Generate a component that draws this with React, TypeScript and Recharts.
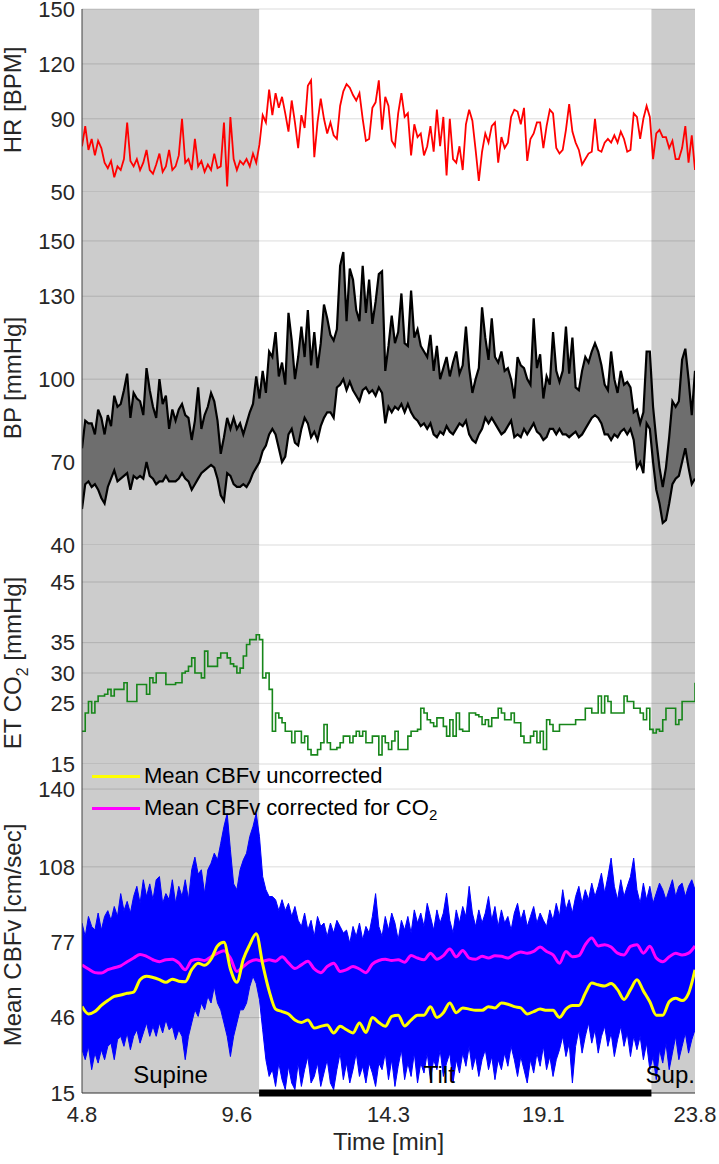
import React from 'react';
import {
  ComposedChart,
  Line,
  Area,
  XAxis,
  YAxis,
  ReferenceArea,
  ReferenceLine,
} from 'recharts';

// time base of the traces (minutes)
const T_START = 4.8;
const T_STEP = 0.1;
const T_END = 23.8;
// supine -> tilt -> supine
const SUPINE_END = 10.29;
const TILT_END = 22.45;

const timeTicks = [4.8, 9.6, 14.3, 19.1, 23.8];
const hrTicks = [50, 90, 120, 150];
const bpTicks = [40, 70, 100, 130, 150];
const co2Ticks = [15, 25, 30, 35, 45];
const cbfvTicks = [15, 46, 77, 108, 140];

// HR [BPM], one value every 0.1 min
const heartRate = [
  75, 86, 73, 79, 70, 78, 74, 66, 63, 67,
  58, 64, 62, 68, 88, 67, 64, 68, 62, 66,
  73, 62, 60, 65, 71, 61, 64, 73, 62, 64,
  70, 90, 66, 68, 62, 79, 64, 67, 61, 65,
  62, 71, 63, 64, 88, 53, 91, 68, 62, 67,
  65, 68, 64, 71, 66, 76, 92, 88, 106, 92,
  104, 96, 102, 93, 83, 100, 88, 74, 92, 85,
  108, 111, 69, 88, 101, 90, 82, 88, 81, 79,
  97, 105, 109, 107, 103, 100, 104, 90, 78, 79,
  96, 99, 111, 84, 102, 97, 78, 75, 93, 104,
  91, 93, 70, 87, 80, 82, 70, 75, 86, 72,
  95, 75, 91, 59, 90, 68, 66, 75, 62, 87,
  95, 89, 73, 56, 72, 82, 77, 86, 88, 66,
  80, 74, 77, 91, 95, 94, 87, 96, 67, 79,
  82, 88, 88, 74, 86, 95, 93, 74, 71, 73,
  84, 98, 83, 77, 73, 65, 68, 71, 72, 90,
  73, 72, 77, 79, 77, 81, 77, 83, 79, 72,
  73, 93, 91, 79, 90, 97, 91, 68, 82, 84,
  80, 80, 74, 78, 68, 68, 74, 86, 66, 81,
  62,
];

// BP [mmHg] upper and lower envelope
const bpSystolic = [
  75, 85, 84, 84, 80, 89, 86, 80, 87, 83,
  94, 90, 91, 96, 102, 86, 95, 93, 92, 87,
  104, 96, 90, 86, 100, 91, 94, 82, 89, 85,
  89, 91, 87, 86, 78, 85, 97, 82, 87, 90,
  95, 92, 85, 73, 79, 86, 82, 86, 82, 84,
  80, 84, 88, 91, 101, 93, 103, 95, 110, 108,
  117, 101, 106, 98, 124, 114, 100, 108, 119, 108,
  125, 105, 117, 104, 113, 127, 122, 116, 114, 118,
  141, 146, 121, 140, 136, 125, 121, 141, 124, 136,
  120, 128, 138, 139, 103, 112, 123, 113, 117, 131,
  113, 112, 132, 115, 118, 112, 110, 108, 116, 103,
  112, 100, 104, 108, 101, 106, 110, 102, 105, 119,
  104, 95, 100, 104, 126, 115, 107, 122, 108, 106,
  110, 103, 104, 100, 93, 108, 105, 104, 100, 98,
  122, 104, 109, 93, 101, 98, 117, 103, 99, 103,
  119, 102, 115, 97, 96, 103, 108, 106, 110, 113,
  110, 105, 98, 96, 110, 100, 95, 103, 98, 99,
  97, 88, 89, 84, 88, 110, 110, 90, 78, 68,
  61, 68, 79, 92, 90, 92, 107, 111, 100, 87,
  103,
];
const bpDiastolic = [
  53, 62, 63, 61, 62, 60, 57, 55, 61, 64,
  67, 63, 64, 65, 66, 60, 65, 64, 65, 64,
  70, 65, 64, 62, 63, 63, 65, 63, 63, 63,
  64, 66, 64, 63, 60, 62, 64, 66, 67, 68,
  69, 68, 64, 58, 56, 66, 65, 62, 61, 61,
  62, 61, 63, 66, 68, 70, 74, 76, 80, 82,
  80, 75, 70, 72, 80, 82, 77, 76, 82, 86,
  84, 79, 81, 78, 83, 86, 88, 88, 86, 97,
  98, 100, 96, 99, 96, 94, 92, 96, 97, 95,
  96, 94, 97, 95, 84, 90, 88, 90, 89, 91,
  88, 91, 88, 86, 85, 83, 84, 82, 84, 80,
  79, 81, 80, 83, 81, 80, 82, 84, 83, 85,
  80, 78, 77, 80, 82, 86, 84, 86, 84, 82,
  80, 81, 83, 85, 79, 80, 79, 82, 80, 82,
  84, 81, 80, 78, 79, 82, 82, 80, 82, 80,
  80, 79, 80, 81, 79, 80, 82, 84, 86, 87,
  86, 84, 80, 80, 78, 80, 79, 81, 82, 80,
  82, 78, 68, 70, 66, 84, 82, 70, 60, 55,
  48, 49, 55, 62, 64, 65, 70, 75, 68, 62,
  64,
];

// end-tidal CO2 [mmHg]
const etCo2 = [
  20.4, 23.4, 25.3, 23.4, 25.3, 26.2, 26.2, 26.5, 27.3, 26.2,
  27.3, 27.3, 27.3, 28.4, 25.3, 25.3, 25.3, 28.1, 28.1, 28.1,
  26.5, 29.2, 28.4, 30, 30, 30, 28.1, 28.1, 28.1, 28.4,
  28.4, 30, 30.3, 31.1, 32.5, 30, 30, 29.2, 33.6, 31.1,
  31.1, 31.1, 32.5, 33.3, 33.3, 32.5, 31.5, 31.1, 30, 30.8,
  32.8, 34.7, 35.5, 35.5, 36.3, 35.5, 29.2, 30, 27.3, 20.4,
  23.4, 22.6, 21.8, 20.4, 20.4, 18.5, 20.4, 20.4, 18.5, 19.6,
  17.4, 16.5, 16.5, 17.4, 18.5, 21.5, 18.5, 17.4, 17.4, 17.7,
  18.5, 19.6, 19.6, 18.5, 19.6, 20.4, 19.6, 20.4, 18.5, 18.5,
  19.6, 19.6, 16.5, 19.6, 18.5, 17.4, 18.8, 20.4, 17.4, 17.4,
  17.4, 19.6, 20.4, 20.4, 20.7, 24.2, 23.4, 22.3, 21.8, 21.2,
  22.6, 22.6, 21.2, 19.6, 22.3, 19.6, 23.4, 20.7, 20.4, 20.4,
  23.4, 23.4, 23.1, 22.8, 21.5, 22.3, 21.2, 22.6, 22.6, 24.2,
  23.4, 22.3, 22.3, 23.4, 21.8, 21.8, 19.6, 18.5, 18.5, 19.6,
  20.4, 18.5, 20.4, 17.4, 22.3, 21.5, 20.4, 20.4, 21.5, 21.5,
  21.5, 21.5, 21.5, 22.3, 22.3, 22.3, 24.2, 24.2, 23.4, 23.4,
  26.2, 23.4, 26.2, 25.3, 23.4, 23.4, 23.4, 23.4, 26.2, 25.3,
  25.3, 24.2, 24.2, 23.4, 22.3, 24.2, 20.7, 20.1, 20.7, 20.4,
  22.3, 24.2, 24.2, 24.2, 21.5, 22.3, 25.3, 25.3, 25.3, 25.3,
  28.4,
];

// raw CBFv [cm/sec] beat band: upper and lower edge
const cbfvHigh = [
  84.9, 79.4, 87.6, 83.5, 82, 89, 82, 87.6, 90, 86,
  91.7, 87.6, 97, 90, 93.8, 89, 95.8, 100, 93, 102.7,
  95.8, 101, 94.5, 102.7, 104, 93, 97, 94.5, 102.7, 93,
  100, 95.8, 102.7, 94.5, 106.8, 112, 105, 106.8, 97, 106.8,
  109.5, 113.6, 110.9, 117.7, 124.6, 130, 115, 101, 98.6, 106.8,
  110.9, 113.6, 120.5, 124.6, 130, 120.5, 104, 98.6, 95.8, 95.8,
  94.5, 90, 94.5, 90, 93, 87.6, 91.7, 86, 83.5, 89,
  82, 86, 79.4, 87.6, 83.5, 84.9, 79.4, 84.9, 80.8, 86,
  83.5, 80.8, 82, 76.6, 83.5, 79.4, 84.9, 78, 83.5, 80.8,
  87.6, 97, 83.5, 79.4, 87.6, 82, 89, 84.9, 78, 86,
  82, 87.6, 80.8, 90.3, 84.9, 89, 83.5, 93, 87.6, 82,
  90.3, 84.9, 89, 97.2, 86, 80.8, 90.3, 84.9, 91.7, 87.6,
  100, 89, 83.5, 90.3, 84.9, 89, 95.8, 86, 91.7, 83.5,
  90.3, 84.9, 87.6, 82, 89, 93, 86, 90.3, 83.5, 87.6,
  91.7, 84.9, 89, 86, 83.5, 90.3, 86, 93, 87.6, 98.6,
  90.3, 94.5, 89, 95.8, 100, 93, 98.6, 94.5, 101.3, 95.8,
  100, 105.4, 97.2, 104, 111.6, 100, 94.5, 102.7, 95.8, 100,
  104, 111.6, 98.6, 93, 101.3, 94.5, 100, 93, 97.2, 101.3,
  98.6, 94.5, 98.6, 102.7, 95.8, 100, 101.3, 95.8, 100, 102.7,
  98.6,
];
const cbfvLow = [
  32.8, 28.7, 34.2, 24.6, 31.4, 27.3, 32.8, 28.7, 34.2, 35.5,
  28.7, 36.9, 38.3, 34.2, 39.7, 32.8, 38.3, 41, 35.5, 39.7,
  43.8, 38.3, 42.4, 38.3, 43.8, 39.7, 45.1, 41, 42.4, 36.9,
  41, 38.3, 28.7, 38.3, 43.8, 49.2, 46.5, 52, 49.2, 54.7,
  52, 58.8, 52, 49.2, 43.8, 38.3, 30, 38.3, 43.8, 49.2,
  49.2, 52, 58.8, 63, 60, 53.4, 41, 28.7, 21.8, 24.6,
  17.7, 27.3, 20.5, 16.4, 26, 19.1, 16.4, 27.3, 17.7, 24.6,
  30, 19.1, 21.8, 27.3, 17.7, 23.2, 28.7, 19.1, 16.4, 24.6,
  31.4, 20.5, 27.3, 19.1, 24.6, 31.4, 21.8, 26, 19.1, 27.3,
  23.2, 17.7, 27.3, 24.6, 31.4, 20.5, 28.7, 17.7, 26, 32.8,
  20.5, 27.3, 21.8, 31.4, 19.1, 27.3, 23.2, 31.4, 20.5, 28.7,
  24.6, 32.8, 21.8, 27.3, 31.4, 19.1, 28.7, 23.2, 31.4, 26,
  34.2, 24.6, 30, 21.8, 28.7, 32.8, 24.6, 30, 20.5, 28.7,
  24.6, 31.4, 26, 34.2, 28.7, 21.8, 30, 24.6, 19.1, 28.7,
  23.2, 31.4, 26, 34.2, 24.6, 30, 21.8, 28.7, 32.8, 38.3,
  30, 35.5, 19.1, 34.2, 41, 31.4, 38.3, 43.8, 35.5, 41,
  31.4, 38.3, 42.4, 34.2, 39.7, 30, 36.9, 42.4, 34.2, 39.7,
  30, 38.3, 32.8, 38.3, 28.7, 35.5, 24.6, 30, 20.5, 32.8,
  27.3, 35.5, 24.6, 31.4, 38.3, 28.7, 34.2, 39.7, 31.4, 36.9,
  41,
];

// mean CBFv [cm/sec], one value every 0.2 min
const cbfvUncorrected = [
  50.6, 47.5, 48.5, 51, 53, 54.7, 55.3, 56, 56.5, 61.6,
  63, 62.5, 61.6, 60.5, 61.8, 61, 60.8, 65.7, 68.4, 67.5,
  70, 75.5, 77, 66, 60.5, 70, 76, 80.5, 68, 57,
  49.5, 48.5, 47.5, 45, 44, 45, 41.7, 42.4, 43, 39.7,
  42.4, 41, 39.7, 43.8, 39.9, 46, 44, 42.4, 46.5, 47,
  42.6, 45, 47, 47, 50.5, 46, 48, 52, 48, 50,
  49.5, 49, 49, 50.5, 50, 52, 51.5, 50.5, 50, 47.5,
  48.5, 49.5, 49, 49, 46, 49.5, 51, 51, 56, 60.2,
  59.5, 59, 60, 57.5, 53.5, 57.5, 61.6, 57, 52.5, 47,
  47, 52.5, 54, 53, 56, 65.7,
];
const cbfvCorrected = [
  67.7, 66, 64.5, 64.3, 65.7, 66.5, 67.3, 69, 70.5, 72,
  71.2, 69.8, 69, 69.8, 70, 68.5, 65.7, 69.5, 70, 69.5,
  71, 72.5, 73.5, 70.5, 65, 67, 69, 69.8, 69.2, 69.8,
  69.2, 71, 68.5, 66.2, 67.7, 69.2, 66, 64.5, 67, 68.4,
  65, 65.7, 67, 66, 64.5, 68, 69.5, 70, 69.5, 69.8,
  68.8, 71.5, 70.5, 69.8, 72.5, 70, 71.5, 74.2, 71, 73.6,
  70.5, 70, 71.2, 70.5, 71.4, 71.2, 70.5, 72, 73, 72.5,
  73.2, 75, 73.2, 71.8, 68.4, 73.2, 71, 71.5, 76, 78.7,
  75.5, 76, 75, 72.5, 71.8, 75.3, 76, 72.5, 75.3, 70.5,
  69, 71, 72.5, 71.8, 72.5, 75.5,
];

const rows = heartRate.map((hr, i) => ({
  t: Math.round((T_START + i * T_STEP) * 100) / 100,
  hr,
  bp: [bpDiastolic[i], bpSystolic[i]],
  sys: bpSystolic[i],
  dia: bpDiastolic[i],
  co2: etCo2[i],
  band: [cbfvLow[i], cbfvHigh[i]],
  unc: i % 2 === 0 ? cbfvUncorrected[i / 2] : null,
  cor: i % 2 === 0 ? cbfvCorrected[i / 2] : null,
}));

const FONT = '"Liberation Sans", Arial, Helvetica, sans-serif';
const W = 719;
const AXIS_W = 82;
const RIGHT = 24;
const INK = '#262626';
const tickFont = { fontSize: 22, fill: INK, fontFamily: FONT };

// rotated y-axis title, optional subscript
const axisTitle = (cy: number, main: string, sub?: string, tail?: string) => () => (
  <text
    x={21}
    y={cy}
    transform={`rotate(-90, 21, ${cy})`}
    textAnchor="middle"
    fontSize={24}
    fontFamily={FONT}
    fill={INK}
  >
    {main}
    {sub && (
      <tspan dy={7} fontSize={16}>
        {sub}
      </tspan>
    )}
    {tail && <tspan dy={sub ? -7 : 0}>{tail}</tspan>}
  </text>
);

// gray supine periods + grid lines, shared by every panel
const backdrop = (ticks: number[]) => [
  <ReferenceArea key="s1" x1={T_START} x2={SUPINE_END} fill="#cccccc" fillOpacity={1} stroke="none" zIndex={-200} />,
  <ReferenceArea key="s2" x1={TILT_END} x2={T_END} fill="#cccccc" fillOpacity={1} stroke="none" zIndex={-200} />,
  ...ticks.map((v) => (
    <ReferenceLine key={'g' + v} y={v} stroke="#000" strokeOpacity={0.14} strokeWidth={1} zIndex={-150} />
  )),
];

const hiddenX = (
  <XAxis type="number" dataKey="t" domain={[T_START, T_END]} allowDataOverflow hide />
);

const yAxisProps = {
  type: 'number' as const,
  width: AXIS_W,
  allowDataOverflow: true,
  interval: 0 as const,
  tickLine: false,
  tickSize: 0,
  tickMargin: 7,
  axisLine: { stroke: '#404040' },
  tick: tickFont,
};

const stateLabel = (value: string, dx = 0) => ({
  value,
  position: 'insideBottom' as const,
  offset: 10,
  dx,
  fontSize: 24,
  fill: '#000',
  fontFamily: FONT,
});

const App: React.FC = () => {
  return (
    <div style={{ position: 'absolute', left: 0, top: 0, width: W, background: '#fff' }}>
      {/* tick labels on the panel edges must not be clipped */}
      <style>{'.recharts-surface{overflow:visible}'}</style>

      {/* HR */}
      <div style={{ position: 'relative' }}>
        <ComposedChart width={W} height={192} data={rows} margin={{ top: 9, right: RIGHT, bottom: 0, left: 0 }}>
          {hiddenX}
          <YAxis {...yAxisProps} domain={[50, 150]} ticks={hrTicks} label={{ content: axisTitle(100, 'HR [BPM]') }} />
          {backdrop(hrTicks)}
          <Line dataKey="hr" type="linear" stroke="#ff0000" strokeWidth={1.8} dot={false} activeDot={false} isAnimationActive={false} />
        </ComposedChart>
      </div>

      {/* BP */}
      <div style={{ position: 'relative' }}>
        <ComposedChart width={W} height={353} data={rows} margin={{ top: 0, right: RIGHT, bottom: 0, left: 0 }}>
          {hiddenX}
          <YAxis {...yAxisProps} domain={[40, 167.7]} ticks={bpTicks} label={{ content: axisTitle(186, 'BP [mmHg]') }} />
          {backdrop(bpTicks)}
          <Area dataKey="bp" type="linear" fill="#6e6e6e" fillOpacity={1} stroke="none" activeDot={false} isAnimationActive={false} />
          <Line dataKey="sys" type="linear" stroke="#000" strokeWidth={2.2} dot={false} activeDot={false} isAnimationActive={false} />
          <Line dataKey="dia" type="linear" stroke="#000" strokeWidth={2.2} dot={false} activeDot={false} isAnimationActive={false} />
        </ComposedChart>
      </div>

      {/* ET CO2 */}
      <div style={{ position: 'relative' }}>
        <ComposedChart width={W} height={219} data={rows} margin={{ top: 0, right: RIGHT, bottom: 0, left: 0 }}>
          {hiddenX}
          <YAxis {...yAxisProps} domain={[15, 51.1]} ticks={co2Ticks} label={{ content: axisTitle(118, 'ET CO', '2', ' [mmHg]') }} />
          {backdrop(co2Ticks)}
          <Line dataKey="co2" type="stepAfter" stroke="#17861a" strokeWidth={1.6} dot={false} activeDot={false} isAnimationActive={false} />
        </ComposedChart>
      </div>

      {/* CBFv */}
      <div style={{ position: 'relative' }}>
        <ComposedChart width={W} height={400} data={rows} margin={{ top: 0, right: RIGHT, bottom: 0, left: 0 }}>
          <XAxis
            type="number"
            dataKey="t"
            domain={[T_START, T_END]}
            allowDataOverflow
            ticks={timeTicks}
            interval={0}
            height={71}
            tickLine={false}
            tickSize={0}
            tickMargin={13}
            axisLine={{ stroke: '#404040' }}
            tick={tickFont}
            label={{ value: 'Time [min]', position: 'insideBottom', offset: 14, fontSize: 24, fill: INK, fontFamily: FONT }}
          />
          <YAxis {...yAxisProps} domain={[15, 150.3]} ticks={cbfvTicks} label={{ content: axisTitle(171, 'Mean CBFv [cm/sec]') }} />
          {backdrop(cbfvTicks)}
          <Area dataKey="band" type="linear" fill="#0000ff" fillOpacity={1} stroke="#0000ff" strokeWidth={1} activeDot={false} isAnimationActive={false} />
          <Line dataKey="cor" type="monotone" connectNulls stroke="#ff00ff" strokeWidth={3} dot={false} activeDot={false} isAnimationActive={false} />
          <Line dataKey="unc" type="monotone" connectNulls stroke="#ffff00" strokeWidth={3} dot={false} activeDot={false} isAnimationActive={false} />
          <ReferenceLine
            segment={[{ x: SUPINE_END, y: 15 }, { x: TILT_END, y: 15 }]}
            stroke="#000"
            strokeWidth={7}
            zIndex={700}
          />
          <ReferenceArea x1={T_START} x2={SUPINE_END} fillOpacity={0} stroke="none" zIndex={800} label={stateLabel('Supine')} />
          <ReferenceArea x1={SUPINE_END} x2={TILT_END} fillOpacity={0} stroke="none" zIndex={800} label={stateLabel('Tilt', -16)} />
          <ReferenceArea x1={TILT_END} x2={T_END} fillOpacity={0} stroke="none" zIndex={800} label={stateLabel('Sup.', -3)} />
        </ComposedChart>

        {/* legend */}
        <div style={{ position: 'absolute', left: 92, top: 0, fontFamily: FONT, fontSize: 22, color: '#000', pointerEvents: 'none' }}>
          <div style={{ position: 'absolute', top: -1, height: 26, lineHeight: '26px', whiteSpace: 'nowrap', display: 'flex', alignItems: 'center' }}>
            <span style={{ display: 'inline-block', width: 48, height: 3, background: '#ffff00', marginRight: 4 }} />
            Mean CBFv uncorrected
          </div>
          <div style={{ position: 'absolute', top: 31, height: 26, lineHeight: '26px', whiteSpace: 'nowrap', display: 'flex', alignItems: 'center' }}>
            <span style={{ display: 'inline-block', width: 48, height: 3, background: '#ff00ff', marginRight: 4 }} />
            Mean CBFv corrected for CO
            <span style={{ fontSize: 15, position: 'relative', top: 7 }}>2</span>
          </div>
        </div>
      </div>
    </div>
  );
};

export default App;
